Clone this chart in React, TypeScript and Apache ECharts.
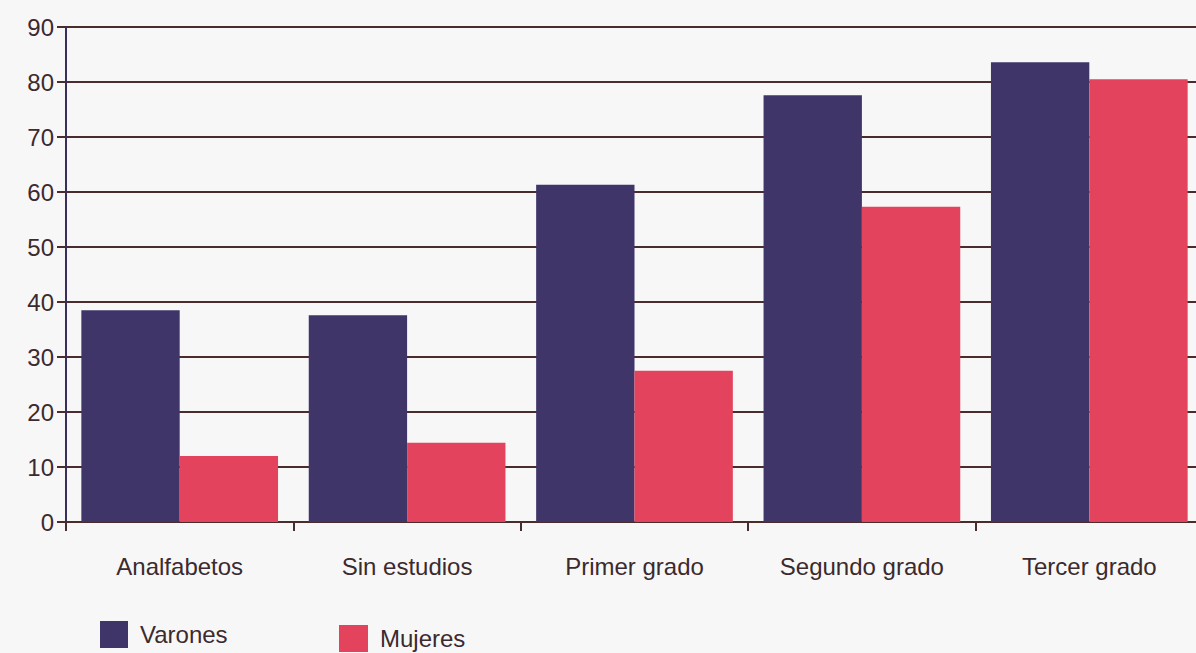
import React, { useEffect, useRef } from "react";
import * as echarts from "echarts";

const categories = ["Analfabetos", "Sin estudios", "Primer grado", "Segundo grado", "Tercer grado"];
const varones = [38.5, 37.6, 61.3, 77.6, 83.6];
const mujeres = [12.0, 14.4, 27.5, 57.3, 80.5];
const seriesNames = ["Varones", "Mujeres"];

const TEXT = "#3b2a2e";
const GRID = "#4a2c2c";

export default function App() {
  const ref = useRef<HTMLDivElement>(null);
  useEffect(() => {
    if (!ref.current) return;
    const chart = echarts.init(ref.current, null, { renderer: "svg" });
    chart.setOption({
      animation: false,
      backgroundColor: "#f8f7f7",
      textStyle: { fontFamily: "Liberation Sans, Arial, sans-serif" },
      grid: {
        left: 66,
        top: 27,
        height: 495,
        width: 1137,
        containLabel: false,
        outerBoundsMode: "none",
      },
      legend: [
        {
          data: [seriesNames[0]],
          left: 100,
          top: 621,
          padding: 0,
          itemWidth: 28,
          itemHeight: 27,
          icon: "rect",
          textStyle: { color: TEXT, fontSize: 24, padding: [0, 0, 0, 7] },
        },
        {
          data: [seriesNames[1]],
          left: 339,
          top: 625,
          padding: 0,
          itemWidth: 29,
          itemHeight: 27,
          icon: "rect",
          textStyle: { color: TEXT, fontSize: 24, padding: [0, 0, 0, 7] },
        },
      ],
      xAxis: {
        type: "category",
        data: categories,
        axisLine: { lineStyle: { color: GRID, width: 2 } },
        axisTick: { show: true, length: 9, lineStyle: { color: GRID, width: 2 } },
        axisLabel: { color: TEXT, fontSize: 24, margin: 32 },
      },
      yAxis: {
        type: "value",
        min: 0,
        max: 90,
        interval: 10,
        axisLine: { show: true, lineStyle: { color: "#3a2f5c", width: 2 } },
        axisTick: { show: true, length: 9, lineStyle: { color: GRID, width: 2 } },
        axisLabel: { color: TEXT, fontSize: 24, margin: 12 },
        splitLine: { show: true, lineStyle: { color: GRID, width: 2 } },
      },
      series: [
        {
          name: seriesNames[0],
          type: "bar",
          data: varones,
          itemStyle: { color: "#3f3568" },
          barGap: "0%",
          barCategoryGap: "13.5%",
        },
        {
          name: seriesNames[1],
          type: "bar",
          data: mujeres,
          itemStyle: { color: "#e4435e" },
          barGap: "0%",
          barCategoryGap: "13.5%",
        },
      ],
    });
    return () => chart.dispose();
  }, []);
  return (
    <div
      ref={ref}
      style={{ position: "absolute", left: 0, top: 0, width: 1196, height: 653 }}
    />
  );
}
